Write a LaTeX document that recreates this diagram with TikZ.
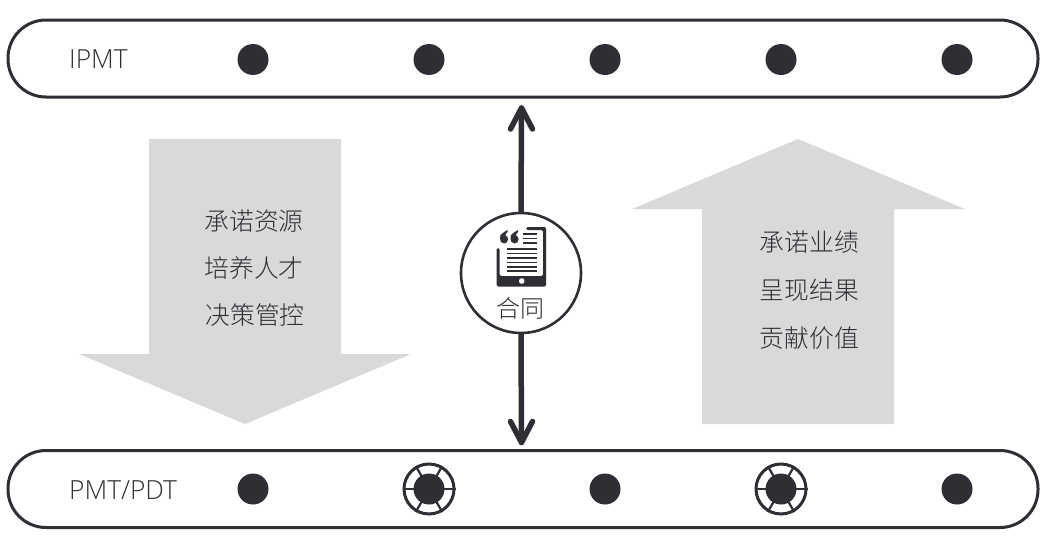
\documentclass[tikz,border=0pt]{standalone}
\usepackage{fontspec}
\setmainfont{Open Sans Light}
\newfontfamily\cjk{Noto Sans CJK SC Light}
\definecolor{ink}{HTML}{2E2F35}
\definecolor{tone}{HTML}{2E2F35}
\definecolor{pale}{HTML}{D9D9D9}
\tikzset{
  lane/.style={draw=ink,line width=3pt,rounded corners=38pt,minimum width=1030pt,inner sep=0pt,fill=white},
  dotmark/.style={circle,fill=ink,minimum size=31pt,inner sep=0pt},
  ringdot/.style={circle,fill=ink,minimum size=31pt,inner sep=0pt},
  lanetext/.style={font=\fontsize{26.3}{26.3}\selectfont,text=tone,anchor=west,inner sep=0pt},
  cjktext/.style={font=\cjk\fontsize{24.8}{24.8}\selectfont,text=tone,inner sep=0pt},
  bigarrow/.style={fill=pale,draw=none},
  link/.style={draw=ink,line width=5.5pt,line cap=round,line join=round},
  iconline/.style={draw=ink,line width=1.5pt},
}
\begin{document}
\begin{tikzpicture}[x=1pt,y=-1pt]
\useasboundingbox (0,0) rectangle (1046,546);
\fill[white] (0,0) rectangle (1046,546);
% lanes
\node[lane,minimum height=77pt] (top) at (523,58.5) {};
\node[lane,minimum height=77pt] (bot) at (523,489) {};
% big arrows
\fill[bigarrow] (149,139)--(341,139)--(341,354)--(411,354)--(245,424)--(79,354)--(149,354)--cycle;
\fill[bigarrow] (798,139)--(965,209)--(894,209)--(894,424)--(702,424)--(702,209)--(632,209)--cycle;
% labels
\node[lanetext] (l1) at (69,59.5) {IPMT};
\node[lanetext] (l2) at (69,490) {PMT/PDT};
% dots
\foreach \n/\x in {a/253,b/429,c/605,d/781,e/957}
  \node[dotmark] (t\n) at (\x,59.5) {};
\foreach \n/\x in {a/253,c/605,e/957}
  \node[dotmark] (b\n) at (\x,489) {};
% ringed dots
\foreach \n/\x in {b/429,d/781}{
  \node[circle,draw=ink,line width=3pt,minimum size=50pt,inner sep=0pt] (r\n) at (\x,489) {};
  \foreach \a in {0,60,120,180,240,300}
    \draw[ink,line width=2.2pt] (\x,489) -- (r\n.\a);
  \node[ringdot] (b\n) at (\x,489) {};
}
% contract
\coordinate (upend) at (521.5,108);
\coordinate (downend) at (521.5,442.5);
\node[circle,minimum size=120pt,inner sep=0pt] (hub) at (521,273) {};
\draw[link] (hub.north) -- (upend);
\draw[link] (hub.south) -- (downend);
\draw[link] ([xshift=-11pt,yshift=-21pt]upend) -- (upend) -- ([xshift=11pt,yshift=-21pt]upend);
\draw[link] ([xshift=-11pt,yshift=21pt]downend) -- (downend) -- ([xshift=11pt,yshift=21pt]downend);
\node[circle,draw=ink,line width=2.6pt,fill=white,minimum size=120pt,inner sep=0pt] at (521,273) {};
% tablet icon
\fill[ink,rounded corners=1.5pt] (496.5,248) -- (499.5,248) -- (499.5,276) -- (543,276) -- (543,230) -- (526,230) -- (526,227) -- (546,227) -- (546,286.5) -- (496.5,286.5) -- cycle;
\fill[white] (521.7,281) circle (2.8);
\foreach \y in {234,238.5,243}
  \draw[iconline] (523,\y) -- (537,\y);
\foreach \y in {249,253.5,258,262.5,267,271}
  \draw[iconline] (507,\y) -- (537,\y);
\foreach \x in {500.5,511}{
  \fill[ink] (\x,235) .. controls (\x+3,233) and (\x+4,231) .. (\x+7,230) -- (\x+7,232)
     .. controls (\x+5.5,233) and (\x+5,234) .. (\x+5,235.5)
     .. controls (\x+7,236) and (\x+7.5,238) .. (\x+7.5,239.5)
     .. controls (\x+7.5,242) and (\x+5.5,243.5) .. (\x+3.5,243.5)
     .. controls (\x+1,243.5) and (\x-1,241) .. (\x-0.5,238.5)
     .. controls (\x-0.5,237) and (\x,236) .. (\x,235) -- cycle;
}
\node[font=\cjk\fontsize{24}{24}\selectfont,text=tone,inner sep=0pt] (ht) at (520.5,308) {合同};
% left text
\node[cjktext] (a1) at (254,221) {承诺资源};
\node[cjktext] (a2) at (254,268) {培养人才};
\node[cjktext] (a3) at (255,315) {决策管控};
% right text
\node[cjktext] (c1) at (809.5,242) {承诺业绩};
\node[cjktext] (c2) at (809.5,290) {呈现结果};
\node[cjktext] (c3) at (809.5,338) {贡献价值};
\end{tikzpicture}
\end{document}
